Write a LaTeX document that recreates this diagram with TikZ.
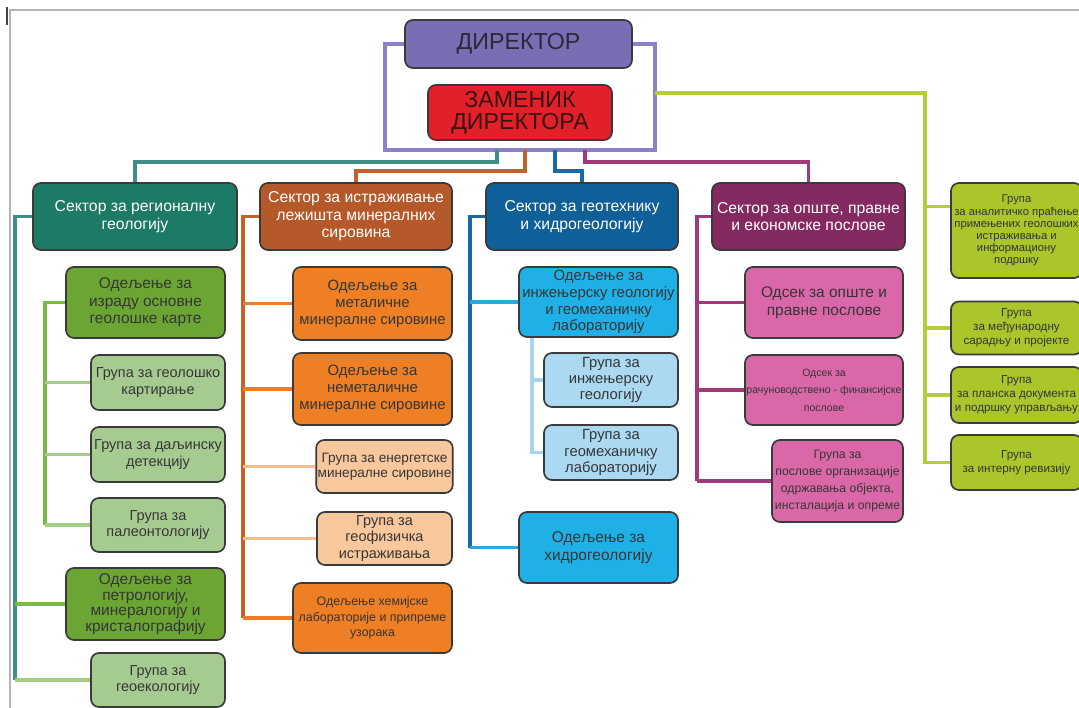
\documentclass[tikz,border=0pt]{standalone}
\usepackage{fontspec}
\setmainfont{Liberation Sans}
\usepackage{tikz}
\usetikzlibrary{backgrounds}
\usepackage{xcolor}
\definecolor{frame_gray}{HTML}{B4B4B4}
\definecolor{box_line}{HTML}{3A3A3A}
\definecolor{txt_dark}{HTML}{363636}
\definecolor{dir_fill}{HTML}{7A6DB3}
\definecolor{dir_line}{HTML}{8C80C6}
\definecolor{dir_text}{HTML}{2C2838}
\definecolor{zam_fill}{HTML}{E2202A}
\definecolor{zam_text}{HTML}{3A1212}
\definecolor{reg_fill}{HTML}{1D7A67}
\definecolor{reg_line}{HTML}{3E8E88}
\definecolor{odg_fill}{HTML}{6BA534}
\definecolor{odg_line}{HTML}{7CBA46}
\definecolor{grg_fill}{HTML}{A6CB90}
\definecolor{grg_line}{HTML}{A3CC84}
\definecolor{ist_fill}{HTML}{B5582A}
\definecolor{ist_line}{HTML}{C4612B}
\definecolor{odo_fill}{HTML}{EE7F24}
\definecolor{odo_line}{HTML}{EB7D2C}
\definecolor{gro_fill}{HTML}{F8C79C}
\definecolor{gro_line}{HTML}{F6BE8C}
\definecolor{geo_fill}{HTML}{0F5F99}
\definecolor{geo_line}{HTML}{1769A8}
\definecolor{odb_fill}{HTML}{1EB0E6}
\definecolor{odb_line}{HTML}{2AA8E0}
\definecolor{grb_fill}{HTML}{AAD9F1}
\definecolor{grb_line}{HTML}{A6D6EF}
\definecolor{ops_fill}{HTML}{852A60}
\definecolor{ops_line}{HTML}{A03A7A}
\definecolor{odp_fill}{HTML}{DA68A8}
\definecolor{lim_fill}{HTML}{AAC62A}
\definecolor{lim_line}{HTML}{B4CD3C}

\tikzset{
	box/.style={draw=box_line, line width=1.2pt, rounded corners=0.2cm, align=center, text=txt_dark, inner sep=1pt},
	sektor/.style={box, text=white, minimum height=1.675cm, font=\fontsize{11.2}{12.5}\selectfont},
	odeljenje/.style={box, minimum width=3.975cm, font=\fontsize{11}{12.5}\selectfont},
	grupa/.style={box, minimum width=3.35cm, font=\fontsize{10.3}{12}\selectfont},
	limgrupa/.style={box, fill=lim_fill, minimum width=3.275cm, font=\fontsize{8.3}{10}\selectfont},
	veza/.style={line width=2.4pt},
}

\begin{document}
\begin{tikzpicture}[x=0.025cm, y=-0.025cm]
	\useasboundingbox (0,0) rectangle (1079,708);
	\clip (0,0) rectangle (1079,708);

	% uprava
	\node[box, fill=dir_fill, minimum width=5.675cm, minimum height=1.2cm, text=dir_text, font=\fontsize{16.5}{17}\selectfont] (dir) at (518.5,44) {ДИРЕКТОР};
	\node[box, fill=zam_fill, minimum width=4.6cm, minimum height=1.375cm, text=zam_text, font=\fontsize{16.5}{16}\selectfont] (zam) at (520,112.5) {ЗАМЕНИК\\ДИРЕКТОРА};

	% sektori
	\node[sektor, fill=reg_fill, minimum width=5.1cm] (sek1) at (135,216.5) {Сектор за регионалну\\геологију};
	\node[sektor, fill=ist_fill, minimum width=4.8cm] (sek2) at (356,216.5) {Сектор за истраживање\\лежишта минералних\\сировина};
	\node[sektor, fill=geo_fill, minimum width=4.8cm] (sek3) at (582,216.5) {Сектор за геотехнику\\и хидрогеологију};
	\node[sektor, fill=ops_fill, minimum width=4.825cm] (sek4) at (808.5,216.5) {Сектор за опште, правне\\и економске послове};

	% regionalna geologija
	\node[odeljenje, fill=odg_fill, minimum height=1.775cm] (od11) at (145.5,302.5) {Одељење за\\израду основне\\геолошке карте};
	\node[grupa, fill=grg_fill, minimum height=1.375cm] (gr11) at (158,382.5) {Група за геолошко\\картирање};
	\node[grupa, fill=grg_fill, minimum height=1.375cm] (gr12) at (158,454.5) {Група за даљинску\\детекцију};
	\node[grupa, fill=grg_fill, minimum height=1.35cm] (gr13) at (158,525) {Група за\\палеонтологију};
	\node[odeljenje, fill=odg_fill, minimum height=1.8cm, font=\fontsize{11}{11}\selectfont] (od12) at (145.5,604) {Одељење за\\петрологију,\\минералогију и\\кристалографију};
	\node[grupa, fill=grg_fill, minimum height=1.35cm] (gr14) at (158,680) {Група за\\геоекологију};

	% lezista
	\node[odeljenje, fill=odo_fill, minimum height=1.825cm, font=\fontsize{10.6}{12}\selectfont] (od21) at (372.5,303.5) {Одељење за\\металичне\\минералне сировине};
	\node[odeljenje, fill=odo_fill, minimum height=1.8cm, font=\fontsize{10.6}{12}\selectfont] (od22) at (372.5,389) {Одељење за\\неметаличне\\минералне сировине};
	\node[grupa, fill=gro_fill, minimum width=3.375cm, minimum height=1.325cm, font=\fontsize{9.7}{11}\selectfont] (gr21) at (384.5,466.5) {Група за енергетске\\минералне сировине};
	\node[grupa, fill=gro_fill, minimum width=3.375cm, minimum height=1.325cm, font=\fontsize{10.3}{11.5}\selectfont] (gr22) at (384.5,538.5) {Група за\\геофизичка\\истраживања};
	\node[odeljenje, fill=odo_fill, minimum height=1.75cm, font=\fontsize{8.8}{11}\selectfont] (od23) at (372.5,618) {Одељење хемијске\\лабораторије и припреме\\узорака};

	% geotehnika
	\node[odeljenje, fill=odb_fill, minimum height=1.75cm, font=\fontsize{10.6}{12}\selectfont] (od31) at (598.5,302) {Одељење за\\инжењерску геологију\\и геомеханичку\\лабораторију};
	\node[grupa, fill=grb_fill, minimum height=1.35cm, font=\fontsize{10.5}{11.5}\selectfont] (gr31) at (611,380) {Група за\\инжењерску\\геологију};
	\node[grupa, fill=grb_fill, minimum height=1.375cm, font=\fontsize{10.5}{11.5}\selectfont] (gr32) at (611,452.5) {Група за\\геомеханичку\\лабораторију};
	\node[odeljenje, fill=odb_fill, minimum height=1.775cm] (od32) at (598.5,547.5) {Одељење за\\хидрогеологију};

	% opsti poslovi
	\node[odeljenje, fill=odp_fill, minimum width=3.95cm, minimum height=1.775cm] (od41) at (824,302.5) {Одсек за опште и\\правне послове};
	\node[odeljenje, fill=odp_fill, minimum width=3.95cm, minimum height=1.75cm, font=\fontsize{7.5}{12.5}\selectfont] (od42) at (824,390) {Одсек за\\рачуноводствено - финансијске\\послове};
	\node[grupa, fill=odp_fill, minimum width=3.275cm, minimum height=2.05cm, font=\fontsize{8.7}{12}\selectfont] (gr41) at (837.5,481) {Група за\\послове организације\\одржавања објекта,\\инсталација и опреме};

	% grupe uz direktora
	\node[limgrupa, minimum height=2.375cm, font=\fontsize{8}{8.6}\selectfont] (gr51) at (1016.5,230.5) {Група\\за аналитичко праћење\\примењених геолошких\\истраживања и\\информациону\\подршку};
	\node[limgrupa, minimum height=1.325cm] (gr52) at (1016.5,328) {Група\\за међународну\\сарадњу и пројекте};
	\node[limgrupa, minimum height=1.4cm] (gr53) at (1016.5,395) {Група\\за планска документа\\и подршку управљању};
	\node[limgrupa, minimum height=1.375cm] (gr54) at (1016.5,462.5) {Група\\за интерну ревизију};

	\begin{scope}[on background layer]
		\fill[white] (0,0) rectangle (1079,708);
		\draw[frame_gray, line width=0.8pt] (10,708) -- (10,10) -- (1079,10);
		\draw[black!75, line width=0.9pt] (7,7) -- (7,25);

		\coordinate (fl) at (385,150);
		\coordinate (fr) at (655,150);
		\coordinate (lim) at (925,93);
		\draw[veza, dir_line] (dir.west) -| (fl) -- (fr) |- (dir.east);
		\draw[veza, lim_line] (fr |- lim) -- (lim) |- (gr54.west);
		\draw[veza, lim_line] (lim |- gr51.160) -- (gr51.160);
		\foreach \n in {gr52,gr53}
			\draw[veza, lim_line] (lim |- \n.west) -- (\n.west);

		\coordinate (b1) at (497,150);
		\coordinate (b2) at (525,150);
		\coordinate (b3) at (555,150);
		\coordinate (b4) at (585,150);
		\draw[veza, reg_line] (b1) -- ++(0,12) -| (sek1.north);
		\draw[veza, ist_line] (b2) -- ++(0,21) -| (sek2.north);
		\draw[veza, geo_line] (b3) -- ++(0,21) -| (sek3.north);
		\draw[veza, ops_line] (b4) -- ++(0,12) -| (sek4.north);

		\coordinate (t1) at (15,0);
		\coordinate (t11) at (45,0);
		\draw[veza, reg_line] (sek1.west) -| (t1 |- gr14.west);
		\draw[veza, grg_line] (t1 |- gr14.west) -- (gr14.west);
		\draw[veza, odg_line] (t1 |- od12.west) -- (od12.west);
		\draw[veza, odg_line] (od11.west) -| (t11 |- gr13.west);
		\foreach \n in {gr11,gr12,gr13}
			\draw[veza, grg_line] (t11 |- \n.west) -- (\n.west);

		\coordinate (t2) at (243,0);
		\draw[veza, ist_line] (sek2.west) -| (t2 |- od23.west);
		\foreach \n in {od21,od22,od23}
			\draw[veza, odo_line] (t2 |- \n.west) -- (\n.west);
		\foreach \n in {gr21,gr22}
			\draw[veza, gro_line] (t2 |- \n.west) -- (\n.west);

		\coordinate (t3) at (470,0);
		\coordinate (t31) at (532,0);
		\draw[veza, geo_line] (sek3.west) -| (t3 |- od32.west);
		\foreach \n in {od31,od32}
			\draw[veza, odb_line] (t3 |- \n.west) -- (\n.west);
		\draw[veza, grb_line] (t31 |- od31.south) |- (gr32.west);
		\draw[veza, grb_line] (t31 |- gr31.west) -- (gr31.west);

		\coordinate (t4) at (697,0);
		\draw[veza, ops_line] (sek4.west) -| (t4 |- gr41.west);
		\foreach \n in {od41,od42,gr41}
			\draw[veza, ops_line] (t4 |- \n.west) -- (\n.west);
	\end{scope}
\end{tikzpicture}
\end{document}
